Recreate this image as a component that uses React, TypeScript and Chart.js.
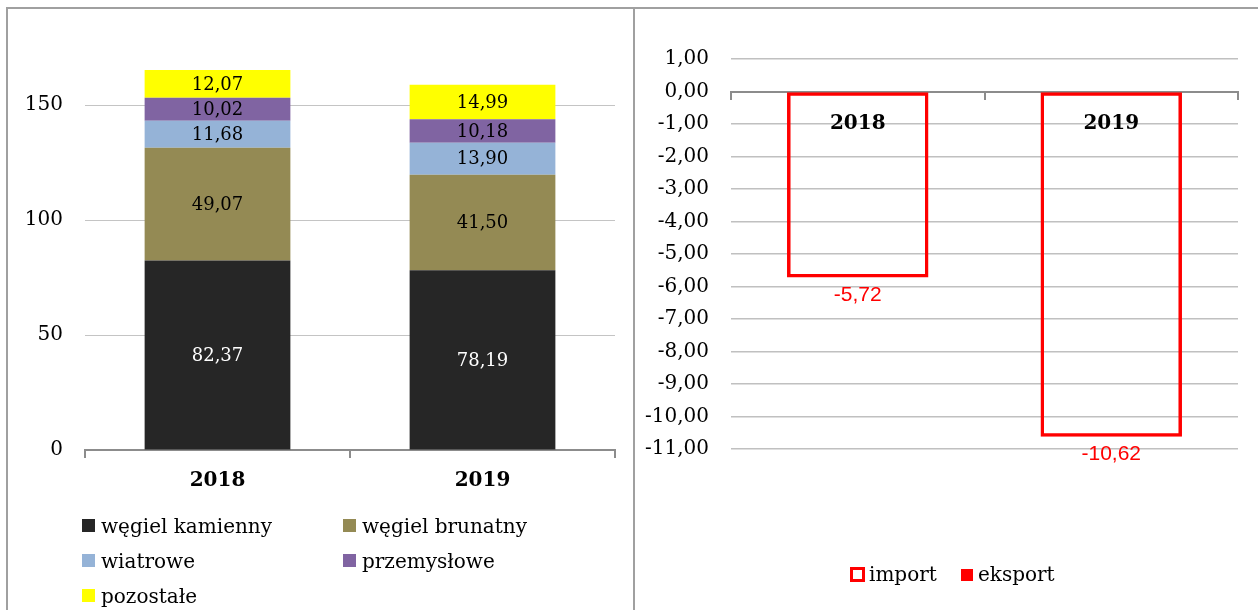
import React, { useEffect, useRef } from "react";
import { Chart, registerables } from "chart.js";

Chart.register(...registerables);

// ---- data ----
const years = ["2018", "2019"];
const seriesNames = ["węgiel kamienny", "węgiel brunatny", "wiatrowe", "przemysłowe", "pozostałe"];
const wegielKamienny = [82.37, 78.19];
const wegielBrunatny = [49.07, 41.5];
const wiatrowe = [11.68, 13.9];
const przemyslowe = [10.02, 10.18];
const pozostale = [12.07, 14.99];
const leftTicks = [0, 50, 100, 150];

const balanceNames = ["import", "eksport"];
const importValues = [-5.72, -10.62];
const eksportValues: (number | null)[] = [null, null];

// ---- styles ----
const stackColors = ["#262626", "#948A54", "#95B3D7", "#8064A2", "#FFFF00"];
const stackLabelColors = ["#ffffff", "#000000", "#000000", "#000000", "#000000"];
const SERIF = "'DejaVu Serif', serif";
const SANS = "'Liberation Sans', sans-serif";

const fmt = (v: number) => v.toFixed(2).replace(".", ",");

const stackLabelsPlugin = {
  id: "stackLabels",
  afterDatasetsDraw(chart: any) {
    const ctx = chart.ctx;
    ctx.save();
    ctx.font = `18px ${SERIF}`;
    ctx.textAlign = "center";
    ctx.textBaseline = "middle";
    chart.data.datasets.forEach((ds: any, di: number) => {
      const meta = chart.getDatasetMeta(di);
      meta.data.forEach((bar: any, i: number) => {
        const v = ds.data[i];
        if (v == null) return;
        ctx.fillStyle = stackLabelColors[di];
        ctx.fillText(fmt(v), bar.x, (bar.y + bar.base) / 2 + 1);
      });
    });
    ctx.restore();
  },
};

const endLabelsPlugin = {
  id: "endLabels",
  afterDatasetsDraw(chart: any) {
    const ctx = chart.ctx;
    ctx.save();
    ctx.font = `21px ${SANS}`;
    ctx.textAlign = "center";
    ctx.textBaseline = "middle";
    ctx.fillStyle = "#ff0000";
    const ds = chart.data.datasets[0];
    const meta = chart.getDatasetMeta(0);
    meta.data.forEach((bar: any, i: number) => {
      const v = ds.data[i];
      if (v == null) return;
      ctx.fillText(fmt(v), bar.x, bar.y + 18);
    });
    ctx.restore();
  },
};

function LeftChart() {
  const ref = useRef<HTMLCanvasElement>(null);
  useEffect(() => {
    const values = [wegielKamienny, wegielBrunatny, wiatrowe, przemyslowe, pozostale];
    const chart = new Chart(ref.current!, {
      type: "bar",
      data: {
        labels: years,
        datasets: values.map((d, i) => ({
          label: seriesNames[i],
          data: d,
          backgroundColor: stackColors[i],
          borderWidth: 0,
          stack: "s",
          barPercentage: 1,
          categoryPercentage: 0.55,
        })),
      },
      options: {
        animation: false,
        responsive: false,
        maintainAspectRatio: false,
        layout: { padding: { left: 0, right: 19, top: 59, bottom: 0 } },
        plugins: { legend: { display: false }, tooltip: { enabled: false } },
        scales: {
          x: {
            stacked: true,
            grid: {
              drawOnChartArea: false,
              drawTicks: true,
              tickLength: 8,
              color: "#8c8c8c",
              lineWidth: 2,
              offset: true,
            },
            border: { display: true, color: "#8c8c8c", width: 2 },
            ticks: {
              color: "#000",
              padding: 11,
              font: { family: SERIF, size: 20, weight: "bold" },
            },
            afterFit: (s: any) => {
              s.height = 160;
            },
          },
          y: {
            stacked: true,
            min: 0,
            max: 170,
            afterBuildTicks: (s: any) => {
              s.ticks = leftTicks.map((v) => ({ value: v }));
            },
            grid: { color: "#c4c4c4", lineWidth: 1, drawTicks: false },
            border: { display: false },
            ticks: {
              color: "#000",
              padding: 22,
              font: { family: SERIF, size: 20 },
            },
            afterFit: (s: any) => {
              s.width = 85;
            },
          },
        },
      } as any,
      plugins: [stackLabelsPlugin],
    });
    return () => chart.destroy();
  }, []);
  return (
    <canvas
      ref={ref}
      width={634}
      height={610}
      style={{ position: "absolute", left: 0, top: 0, width: 634, height: 610 }}
    />
  );
}

function RightChart() {
  const ref = useRef<HTMLCanvasElement>(null);
  useEffect(() => {
    const chart = new Chart(ref.current!, {
      type: "bar",
      data: {
        labels: years,
        datasets: [
          {
            label: balanceNames[0],
            data: importValues,
            backgroundColor: "rgba(255,255,255,0)",
            borderColor: "#ff0000",
            borderWidth: 3.5,
            borderSkipped: false,
            inflateAmount: 0,
            barPercentage: 1,
            categoryPercentage: 0.558,
            grouped: false,
          },
          {
            label: balanceNames[1],
            data: eksportValues,
            backgroundColor: "#ff0000",
            borderWidth: 0,
            barPercentage: 1,
            categoryPercentage: 0.558,
            grouped: false,
          },
        ],
      },
      options: {
        animation: false,
        responsive: false,
        maintainAspectRatio: false,
        layout: { padding: { left: 0, right: 20, top: 59, bottom: 161 } },
        plugins: { legend: { display: false }, tooltip: { enabled: false } },
        scales: {
          x: {
            position: { y: 0 },
            grid: {
              drawOnChartArea: false,
              drawTicks: true,
              tickLength: 7,
              color: "#8c8c8c",
              lineWidth: 2,
              offset: true,
            },
            border: { display: true, color: "#8c8c8c", width: 2 },
            ticks: {
              color: "#000",
              padding: 13,
              font: { family: SERIF, size: 20, weight: "bold" },
            },
            afterFit: (s: any) => {
              s.height = 0;
            },
          },
          y: {
            min: -11,
            max: 1,
            ticks: {
              stepSize: 1,
              color: "#000",
              padding: 22,
              font: { family: SERIF, size: 20 },
              callback: (v: any) => fmt(Number(v)),
            },
            grid: { color: "#c0c0c0", lineWidth: 1.5, drawTicks: false },
            border: { display: false },
            afterFit: (s: any) => {
              s.width = 97;
            },
          },
        },
      } as any,
      plugins: [endLabelsPlugin],
    });
    return () => chart.destroy();
  }, []);
  return (
    <canvas
      ref={ref}
      width={624}
      height={610}
      style={{ position: "absolute", left: 634, top: 0, width: 624, height: 610 }}
    />
  );
}

const textStyle: React.CSSProperties = {
  position: "absolute",
  fontFamily: SERIF,
  fontSize: 20,
  lineHeight: "24px",
  color: "#000",
  whiteSpace: "nowrap",
};

export default function App() {
  const leftLegendPos = [
    { x: 82, y: 519 },
    { x: 343, y: 519 },
    { x: 82, y: 554 },
    { x: 343, y: 554 },
    { x: 82, y: 589 },
  ];
  return (
    <div
      style={{
        position: "fixed",
        left: 0,
        top: 0,
        width: 1258,
        height: 610,
        background: "#fff",
        overflow: "hidden",
      }}
    >
      <div style={{ position: "absolute", left: 6, top: 7, width: 2, height: 603, background: "#a0a0a0" }} />
      <div style={{ position: "absolute", left: 6, top: 7, width: 1252, height: 2, background: "#a0a0a0" }} />
      <div style={{ position: "absolute", left: 633, top: 7, width: 2, height: 603, background: "#a0a0a0" }} />
      <LeftChart />
      <RightChart />
      {seriesNames.map((name, i) => (
        <React.Fragment key={name}>
          <div
            style={{
              position: "absolute",
              left: leftLegendPos[i].x,
              top: leftLegendPos[i].y,
              width: 13,
              height: 13,
              background: stackColors[i],
            }}
          />
          <div style={{ ...textStyle, left: leftLegendPos[i].x + 19, top: leftLegendPos[i].y - 5 }}>{name}</div>
        </React.Fragment>
      ))}
      <div
        style={{
          position: "absolute",
          left: 850,
          top: 567,
          width: 15,
          height: 15,
          boxSizing: "border-box",
          border: "3px solid #ff0000",
          background: "#fff",
        }}
      />
      <div style={{ ...textStyle, left: 869, top: 562 }}>{balanceNames[0]}</div>
      <div style={{ position: "absolute", left: 961, top: 569, width: 12, height: 12, background: "#ff0000" }} />
      <div style={{ ...textStyle, left: 978, top: 562 }}>{balanceNames[1]}</div>
    </div>
  );
}
